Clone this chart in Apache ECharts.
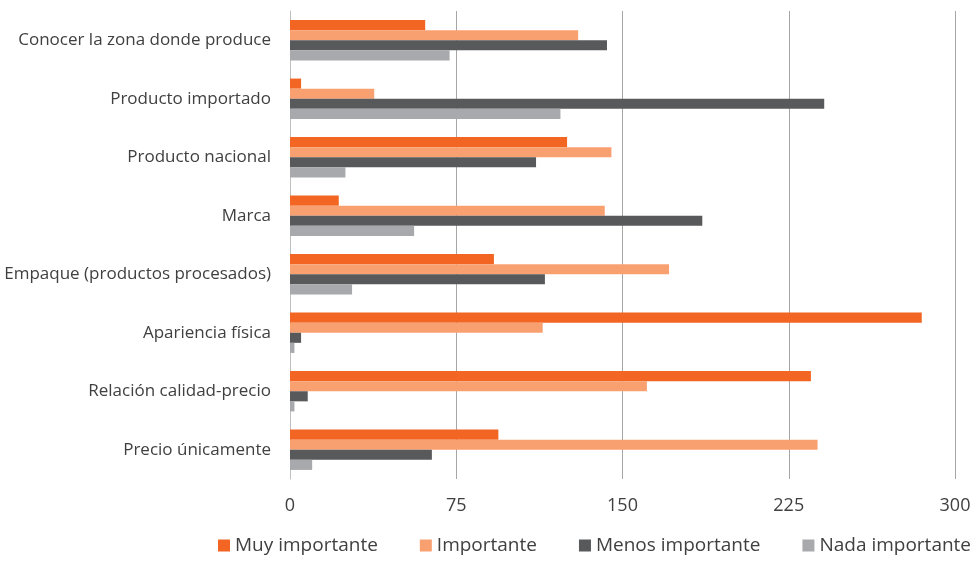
<!DOCTYPE html>
<html><head><meta charset="utf-8">
<script src="https://cdn.jsdelivr.net/npm/echarts@6/dist/echarts.min.js"></script>
<style>html,body{margin:0;padding:0;background:#fff}#c{width:977px;height:561px}</style>
</head><body><div id="c"></div>
<script>
const categories = ["Conocer la zona donde produce","Producto importado","Producto nacional","Marca","Empaque (productos procesados)","Apariencia física","Relación calidad-precio","Precio únicamente"];
const seriesNames = ["Muy importante","Importante","Menos importante","Nada importante"];
const muyImportante = [61, 5, 125, 22, 92, 285, 235, 94];
const importante = [130, 38, 145, 142, 171, 114, 161, 238];
const menosImportante = [143, 241, 111, 186, 115, 5, 8, 64];
const nadaImportante = [72, 122, 25, 56, 28, 2, 2, 10];
const xTicks = [0, 75, 150, 225, 300];
const colors = ["#F26522", "#F9A070", "#58595B", "#A7A9AC"];
const values = [muyImportante, importante, menosImportante, nadaImportante];
const font = "'Open Sans', 'Noto Sans', sans-serif";
const chart = echarts.init(document.getElementById('c'));
chart.setOption({
  animation: false,
  textStyle: {fontFamily: font},
  grid: {left: 290, right: 22, top: 11, bottom: 82, containLabel: false},
  legend: {
    bottom: 1, left: 213, width: 900, itemWidth: 12, itemHeight: 12, itemGap: 42,
    icon: 'rect',
    textStyle: {fontSize: 19, color: '#404040', fontFamily: font},
    data: seriesNames
  },
  xAxis: {
    type: 'value', min: xTicks[0], max: xTicks[xTicks.length-1], interval: 75,
    axisLine: {show: false}, axisTick: {show: false},
    splitLine: {lineStyle: {color: '#A6A6A6', width: 1}},
    axisLabel: {fontSize: 18, color: '#404040', margin: 18, fontFamily: font}
  },
  yAxis: {
    type: 'category', data: categories, inverse: true,
    axisLine: {show: true, lineStyle: {color: '#BFBFBF'}}, axisTick: {show: false},
    axisLabel: {fontSize: 17, color: '#404040', margin: 19, fontFamily: font}
  },
  series: seriesNames.map((n, i) => ({
    name: n, type: 'bar', data: values[i],
    itemStyle: {color: colors[i]},
    barGap: '0%', barCategoryGap: '31%'
  }))
});
</script></body></html>
